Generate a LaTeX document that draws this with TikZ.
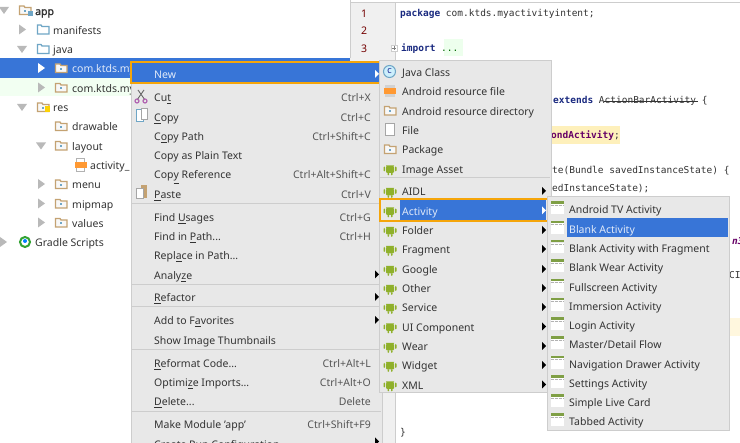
\documentclass[tikz,border=0pt]{standalone}
\usepackage{fontspec}
\setmainfont{Noto Sans}
\newfontfamily\codefont{DejaVu Sans Mono}
\newfontfamily\uibold[FakeBold=1.6]{Noto Sans}
\usetikzlibrary{positioning}

\definecolor{menubg}{HTML}{E8E8E8}
\definecolor{menuline}{HTML}{CDCDCD}
\definecolor{selblue}{HTML}{3875D7}
\definecolor{markorange}{HTML}{F5A50A}
\definecolor{droidgreen}{HTML}{8FB02A}
\definecolor{barolive}{HTML}{7F9F45}
\definecolor{folderbrown}{HTML}{C4A272}
\definecolor{folderblue}{HTML}{6FA6C6}
\definecolor{gutterbg}{HTML}{F0F0F0}
\definecolor{uitext}{HTML}{333333}
\definecolor{keytext}{HTML}{555555}
\definecolor{codeblue}{HTML}{1A2A80}

\newcommand{\threedots}{.{}.{}.}

\tikzset{
    uilabel/.style={anchor=base west, inner sep=0pt, text=uitext, font=\fontsize{10.5}{12}\selectfont},
    keylabel/.style={anchor=base east, inner sep=0pt, text=keytext, font=\fontsize{10.5}{12}\selectfont},
    codelabel/.style={anchor=base west, inner sep=0pt, text=uitext, font=\fontsize{9.5}{11}\codefont},
    menubox/.style={fill=menubg, draw=menuline, line width=1pt},
    sepline/.style={menuline, line width=1pt},
    markbox/.style={draw=markorange, line width=2pt},
    pics/menuarrow/.style={code={\fill (-2,-4) -- (2,0) -- (-2,4) -- cycle;}},
    pics/treeright/.style={code={\fill (-3,-5) -- (4,0) -- (-3,5) -- cycle;}},
    pics/treedown/.style={code={\fill (-5,-3) -- (5,-3) -- (0,4) -- cycle;}},
    pics/folder/.style={code={
        \draw[#1, line width=1.3pt, fill=white!70!menubg] (-5.5,-4) -- (-1,-4) -- (0,-2.5) -- (6,-2.5) -- (6,4.5) -- (-5.5,4.5) -- cycle;
        \fill[folderblue] (-1.5,0) rectangle (0.5,2);
    }},
    pics/droid/.style={code={
        \fill[droidgreen] (-4,-3) arc (180:0:4 and 3.5) -- cycle;
        \fill[droidgreen, rounded corners=1pt] (-4,-2) rectangle (4,4.5);
        \fill[droidgreen, rounded corners=0.8pt] (-6.5,-2) rectangle (-5,3);
        \fill[droidgreen, rounded corners=0.8pt] (5,-2) rectangle (6.5,3);
        \fill[droidgreen, rounded corners=0.8pt] (-2.5,4) rectangle (-1,7);
        \fill[droidgreen, rounded corners=0.8pt] (1,4) rectangle (2.5,7);
        \fill[menubg] (-2,-4.2) circle (0.5) (2,-4.2) circle (0.5);
    }},
    pics/screen/.style={code={
        \fill[white] (-6.5,-5) rectangle (6.5,5.5);
        \fill[barolive] (-6.5,-7.5) rectangle (6.5,-5.2);
        \draw[gray!60, line width=1pt, dash pattern=on 3pt off 1pt] (-6.5,-3.5) -- (6.5,-3.5);
    }},
}

\begin{document}
\begin{tikzpicture}[x=1pt,y=-1pt]
    \useasboundingbox (0,0) rectangle (740,443);
    \clip (0,0) rectangle (740,443);
    \fill[white] (0,0) rectangle (740,443);

    % Editor gutter
    \fill[gutterbg] (350,3) rectangle (395,443);
    \draw[menuline, line width=1pt] (350,0) -- (350,58);
    \draw[menuline, line width=1pt] (350,3) -- (740,3);
    \draw[menuline, line width=1pt] (395,3) -- (395,443);
    \fill[white] (396,4) rectangle (740,443);
    \foreach \num/\ypos in {1/13,2/30.5,3/48}
    {
        \node[uilabel, text=red!45!black] (line-\num) at (361,\ypos+4.5) {\num};
    }
    \draw[menuline, fill=white] (391,45) rectangle (397,51);
    \draw[gray, line width=0.5pt] (392,48) -- (396,48) (394,46) -- (394,50);

    % Code
    \fill[green!7] (444,39) rectangle (463,56);
    \fill[yellow!60!orange!25] (551,126) rectangle (620,144);
    \fill[yellow!60!orange!12] (729,318) rectangle (740,336);
    \node[codelabel] (code-pkg) at (400,17) {\textcolor{codeblue}{\bfseries package} com.ktds.myactivityintent;};
    \node[codelabel] (code-imp) at (401,52) {\textcolor{codeblue}{\bfseries import} \textcolor{green!40!black}{\threedots}};
    \node[codelabel] (code-ext) at (553,104) {\textcolor{codeblue}{\bfseries extends} ActionBarActivity \{};
    \draw[uitext, line width=0.6pt] (604,101) -- (698,101);
    \node[codelabel] (code-act) at (551,139) {\textcolor{violet!80!black}{\bfseries ondActivity};};
    \node[codelabel] (code-bun) at (552,174) {te(Bundle savedInstanceState) \{};
    \node[codelabel] (code-sup) at (552,192) {edInstanceState);};
    \node[codelabel] (code-end) at (400,436) {\}};
    \node[codelabel, text=violet!80!black] (code-cut1) at (732,245) {\bfseries\itshape n3};
    \node[codelabel] (code-cut2) at (729,279) {CI};

    % Project tree
    \fill[selblue] (0,58) rectangle (350,78);
    \fill[green!5] (0,78) rectangle (131,96);
    \foreach \i/\txt/\xpos/\ypos in {2/manifests/53/29.5,3/java/53/49,6/res/53/107,7/drawable/72/126,
        8/layout/72/145.5,9/activity\_/90/165,10/menu/72/184,11/mipmap/72/203.5,12/values/72/222.5,13/Gradle Scripts/35/242}
    {
        \node[uilabel] (tree-\i) at (\xpos,\ypos+5) {\txt};
    }
    \node[uilabel, font=\fontsize{10.5}{12}\uibold] (tree-1) at (35,15) {app};
    \node[uilabel, text=white!85!selblue] (tree-4) at (72,73) {com.ktds.my};
    \node[uilabel] (tree-5) at (72,92.5) {com.ktds.my};

    \foreach \xpos/\ypos in {22/29.5,41/87.5,41/184,41/203.5,41/222.5,3/242}
    {
        \pic[gray!55] at (\xpos,\ypos) {treeright};
    }
    \foreach \xpos/\ypos in {4/10,22/49,22/107,41/145.5}
    {
        \pic[gray!55] at (\xpos,\ypos) {treedown};
    }
    \pic[white] at (41,68) {treeright};

    \foreach \xpos/\ypos in {25/10,61/68,61/87.5,43/107,61/126,61/145.5,61/184,61/203.5,61/222.5}
    {
        \pic at (\xpos,\ypos) {folder=folderbrown};
    }
    \foreach \ypos in {29.5,49}
    {
        \draw[folderblue, line width=1.3pt] (37.5,\ypos-4.5) -- (41,\ypos-4.5) -- (42,\ypos-3) -- (49,\ypos-3) -- (49,\ypos+4.5) -- (37.5,\ypos+4.5) -- cycle;
    }
    \fill[yellow!70!orange] (45,106) rectangle (50,112);
    \fill[folderblue] (28,11) rectangle (33,16);
    % Layout file and gradle icon
    \draw[gray!60, line width=1pt] (76,159) rectangle (84,172);
    \fill[orange!80] (75,162) rectangle (87,168);
    \draw[green!55!black!80, line width=2pt] (25,242) circle (5);
    \fill[blue!50!cyan] (25,241) circle (2);

    % Main menu
    \fill[menubg] (131,62) rectangle (382,443);
    \draw[menuline, line width=1pt] (131,62) -- (131,443) (382,62) -- (382,443);
    \fill[selblue] (132,63) rectangle (380,83);
    \draw[markbox] (131,62) rectangle (381,83.5);
    \node[uilabel, text=white!85!selblue] (main-new) at (154,79) {New};
    \foreach \txt/\keys/\ypos [count=\i] in {
        Cu\underline{t}/Ctrl+X/97,
        \underline{C}opy/Ctrl+C/116.5,
        C\underline{o}py Path/Ctrl+Shift+C/136,
        Copy as Plain Text//155,
        Cop\underline{y} Reference/Ctrl+Alt+Shift+C/174,
        \underline{P}aste/Ctrl+V/193.5,
        Find \underline{U}sages/Ctrl+G/216.5,
        Find in \underline{P}ath\threedots/Ctrl+H/236,
        Repl\underline{a}ce in Path\threedots//255,
        Analy\underline{z}e//274.5,
        \underline{R}efactor//297,
        Add to F\underline{a}vorites//320,
        Show Image Thumbnails//339.5,
        \underline{R}eformat Code\threedots/Ctrl+Alt+L/362.5,
        Optimi\underline{z}e Imports\threedots/Ctrl+Alt+O/382,
        \underline{D}elete\threedots/Delete/401,
        Make Module 'app'/Ctrl+Shift+F9/424,
        Create Run Configuration//443.5}
    {
        \node[uilabel] (main-\i) at (154,\ypos+5) {\txt};
        \node[keylabel] (mainkey-\i) at (371,\ypos+5) {\keys};
    }
    \foreach \ypos in {203.5,284.5,307,349.5,411.5}
    {
        \draw[sepline] (132,\ypos) -- (381,\ypos);
    }
    \foreach \ypos in {274.5,297,320,441.5}
    {
        \pic[black] at (377,\ypos) {menuarrow};
    }
    \pic[white] at (377,74) {menuarrow};
    % Cut, copy, paste icons
    \draw[gray!80!black, line width=0.9pt] (138,90) -- (145,100) (144,90) -- (137,100);
    \draw[violet!60, line width=1.2pt] (137,101) circle (2) (145,101) circle (2);
    \draw[folderblue, fill=white, line width=1pt] (136,110) rectangle (143,122);
    \draw[gray!70, fill=white, line width=1pt] (141,109) rectangle (147,120);
    \fill[folderbrown] (141,185) rectangle (147,198);
    \draw[gray!70, fill=white, line width=1pt] (136,189) rectangle (143,199);

    % New submenu
    \filldraw[menubox] (379,61) rectangle (551,393);
    \draw[sepline] (380,178) -- (550,178);
    \fill[selblue] (400,200) rectangle (546,220);
    \foreach \txt/\ypos [count=\i] in {Java Class/72,Android resource file/91,Android resource directory/110.5,
        File/130,Package/149,Image Asset/168.5,AIDL/191,Activity/210.5,Folder/230,Fragment/249,Google/269,
        Other/288,Service/307,UI Component/326.5,Wear/346,Widget/365,XML/384.5}
    {
        \node[uilabel] (sub-\i) at (402,\ypos+5) {\ifnum\i=8\relax\textcolor{white!85!selblue}{\txt}\else\txt\fi};
    }
    \foreach \ypos in {168.5,191,210.5,230,249,269,288,307,326.5,346,365,384.5}
    {
        \pic at (390,\ypos) {droid};
    }
    \foreach \ypos in {191,230,249,269,288,307,326.5,346,365,384.5}
    {
        \pic[black] at (544,\ypos) {menuarrow};
    }
    \pic[white] at (544,210.5) {menuarrow};
    \draw[markbox] (380,199) rectangle (548,221);
    \filldraw[draw=folderblue, fill=cyan!20, line width=1pt] (389.5,71.5) circle (6);
    \node[inner sep=0pt, text=blue!50!black, font=\fontsize{7}{8}\selectfont] (sub-c) at (389.5,71.5) {C};
    \fill[gray!35] (385,85) rectangle (395,97);
    \fill[orange!80] (384,88) rectangle (396,94);
    \pic at (390,110.5) {folder=folderbrown};
    \draw[gray!70, fill=white, line width=1pt] (385,124) rectangle (394,136);
    \pic at (390,149) {folder=folderbrown};

    % Activity submenu
    \filldraw[menubox] (547,197) rectangle (729,431);
    \fill[selblue] (567,218) rectangle (728,237.5);
    \foreach \txt/\ypos [count=\i] in {Android TV Activity/209,Blank Activity/228.3,Blank Activity with Fragment/247.6,
        Blank Wear Activity/267,Fullscreen Activity/286.3,Immersion Activity/305.5,Login Activity/325,
        {Master/Detail Flow}/344,Navigation Drawer Activity/363.5,Settings Activity/383,Simple Live Card/402,Tabbed Activity/421}
    {
        \node[uilabel] (act-\i) at (569,\ypos+5) {\ifnum\i=2\relax\textcolor{white!85!selblue}{\txt}\else\txt\fi};
        \pic at (557,\ypos) {screen};
    }
\end{tikzpicture}
\end{document}
